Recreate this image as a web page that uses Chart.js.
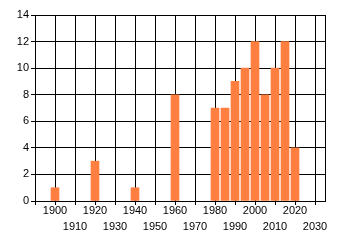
<!DOCTYPE html>
<html>
<head>
<meta charset="utf-8">
<script src="https://cdn.jsdelivr.net/npm/chart.js@4/dist/chart.umd.min.js"></script>
<style>
    html, body { margin: 0; padding: 0; background: #fff; }
    #wrap { width: 340px; height: 245px; }
</style>
</head>
<body>
<div id="wrap"><canvas id="chart" width="340" height="245"></canvas></div>
<script>
    /* --- Chart data --- */
    var years = [1900, 1920, 1940, 1960, 1980, 1985, 1990, 1995, 2000, 2005, 2010, 2015, 2020];
    var counts = [1, 3, 1, 8, 7, 7, 9, 10, 12, 8, 10, 12, 4];
    var xTicks = [1890, 1900, 1910, 1920, 1930, 1940, 1950, 1960, 1970, 1980, 1990, 2000, 2010, 2020, 2030, 2035];
    var yTicks = [0, 2, 4, 6, 8, 10, 12, 14];

    var points = years.map(function (y, i) { return { x: y, y: counts[i] }; });
    var font = { family: "'Liberation Sans', Arial, sans-serif", size: 11, lineHeight: 16 / 11 };

    new Chart(document.getElementById("chart"), {
        type: "bar",
        data: {
            datasets: [{
                data: points,
                backgroundColor: "#FF7F40",
                borderWidth: 0,
                barThickness: 8
            }]
        },
        options: {
            responsive: false,
            animation: false,
            layout: { padding: { top: 15, right: 15, left: 0, bottom: 0 } },
            plugins: { legend: { display: false }, tooltip: { enabled: false } },
            scales: {
                x: {
                    type: "linear",
                    min: 1890,
                    max: 2035,
                    offset: false,
                    afterBuildTicks: function (scale) {
                        scale.ticks = xTicks.map(function (v) { return { value: v }; });
                    },
                    afterFit: function (scale) { scale.height = 44; },
                    grid: {
                        offset: false,
                        color: "#000",
                        lineWidth: 1,
                        tickLength: 4,
                        tickColor: function (ctx) {
                            // no tick mark under the right-hand frame line
                            return ctx.tick && ctx.tick.value === 2035 ? "rgba(0,0,0,0)" : "#000";
                        }
                    },
                    border: { color: "#000" },
                    ticks: {
                        autoSkip: false,
                        maxRotation: 0,
                        padding: -2,
                        color: "#000",
                        font: font,
                        callback: function (v) {
                            if (v < 1900 || v > 2030) return "";
                            // staggered labels: 1900, 1920... on top row, 1910, 1930... below
                            return ((v - 1900) / 10) % 2 === 0 ? [String(v), ""] : ["", String(v)];
                        }
                    }
                },
                y: {
                    min: 0,
                    max: 14,
                    afterBuildTicks: function (scale) {
                        scale.ticks = yTicks.map(function (v) { return { value: v }; });
                    },
                    afterFit: function (scale) { scale.width = 35; },
                    grid: { color: "#000", lineWidth: 1, tickLength: 4, tickColor: "#000" },
                    border: { color: "#000" },
                    ticks: { padding: 2, color: "#000", font: { family: font.family, size: 11 } }
                }
            }
        }
    });
</script>
</body>
</html>
